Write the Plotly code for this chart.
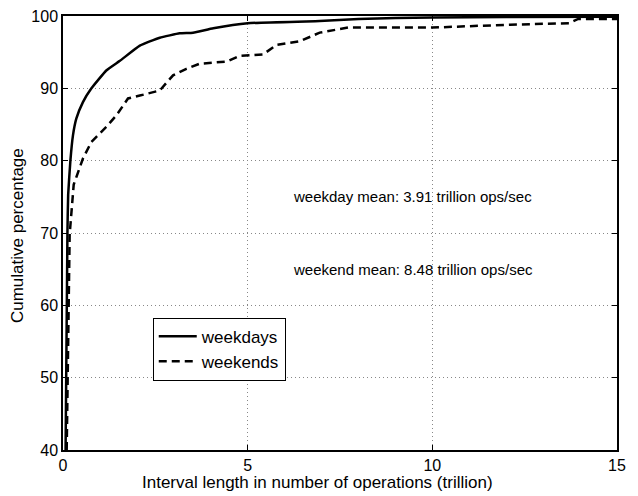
import plotly.graph_objects as go

weekday_x = [0.07, 0.12, 0.14, 0.2, 0.27, 0.36, 0.54, 0.77, 1.18, 1.54, 2.08, 2.62, 3.16, 3.52, 4.07, 5.0, 6.95, 8.0, 10.0, 12.0, 15.0]
weekday_y = [40, 70, 75.3, 80, 83.5, 85.8, 88.1, 90, 92.5, 93.8, 95.9, 97.0, 97.6, 97.7, 98.3, 99.0, 99.3, 99.6, 99.8, 99.85, 99.9]

weekend_x = [0.1, 0.18, 0.29, 0.54, 0.77, 1.18, 1.45, 1.76, 2.08, 2.62, 2.98, 3.34, 3.7, 4.43, 4.79, 5.42, 5.78, 6.41, 6.95, 7.72, 10.0, 12.1, 13.7, 13.95, 15.0]
weekend_y = [40, 69.8, 76.7, 80.3, 82.6, 84.7, 86.3, 88.6, 89.0, 89.7, 91.8, 92.7, 93.4, 93.7, 94.5, 94.7, 96.0, 96.5, 97.7, 98.4, 98.4, 98.8, 99.0, 99.6, 99.6]

x_ticks = [0, 5, 10, 15]
y_ticks = [40, 50, 60, 70, 80, 90, 100]

x_title = "Interval length in number of operations (trillion)"
y_title = "Cumulative percentage"
notes = ["weekday mean: 3.91 trillion ops/sec", "weekend mean: 8.48 trillion ops/sec"]
note_y = [75, 65]

fig = go.Figure()
fig.add_trace(go.Scatter(x=weekday_x, y=weekday_y, mode="lines", name="weekdays",
                         line=dict(color="black", width=2.5, shape="spline", smoothing=0.4)))
fig.add_trace(go.Scatter(x=weekend_x, y=weekend_y, mode="lines", name="weekends",
                         line=dict(color="black", width=2.5, dash="8px,5px")))

for t, yy in zip(notes, note_y):
    fig.add_annotation(x=6.18, y=yy, text=t, showarrow=False, xanchor="left", yanchor="middle",
                       font=dict(size=15, color="black"))

fig.add_annotation(xref="paper", yref="paper", x=0.46, y=-0.075, text=x_title, showarrow=False,
                   xanchor="center", yanchor="middle", font=dict(size=17, color="black"))
fig.add_annotation(xref="paper", yref="paper", x=-0.083, y=0.493, text=y_title, showarrow=False,
                   textangle=-90, xanchor="center", yanchor="middle", font=dict(size=17, color="black"))

axis_common = dict(showline=True, linecolor="black", linewidth=1.5, mirror="allticks",
                   ticks="inside", ticklen=5, tickcolor="black",
                   showgrid=True, gridcolor="#888", griddash="1px,3px", gridwidth=1,
                   zeroline=False, tickfont=dict(size=16, color="black"), automargin=False,
                   ticklabeloverflow="allow")

fig.update_xaxes(range=[0, 15], tickvals=x_ticks, **axis_common)
fig.update_yaxes(range=[40, 100], tickvals=y_ticks, **axis_common)

# page body has an 8px default margin, so the figure is 8px smaller than the window
fig.update_layout(width=630, height=488, plot_bgcolor="white", paper_bgcolor="white",
                  font=dict(family="Liberation Sans, Arial, sans-serif", color="black"),
                  margin=dict(l=55, r=21, t=8, b=46, pad=0),
                  legend=dict(x=0.162, y=0.305, xanchor="left", yanchor="top",
                              bordercolor="black", borderwidth=1, bgcolor="white",
                              font=dict(size=17, color="black"), tracegroupgap=0,
                              itemwidth=38))

fig.write_html("out.html")
